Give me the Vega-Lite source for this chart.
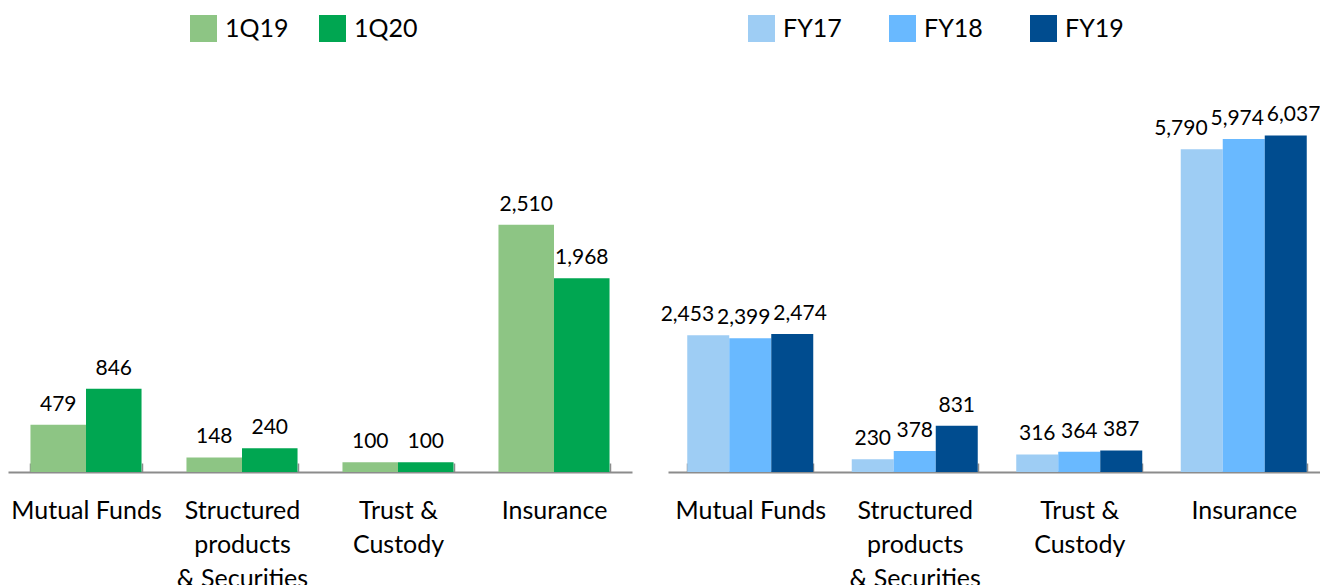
{
  "$schema": "https://vega.github.io/schema/vega-lite/v6.json",
  "padding": {"left": 8, "top": 15, "right": 0, "bottom": 0},
  "background": "white",
  "config": {
    "view": {"stroke": null},
    "font": "Lato",
    "axis": {
      "domainColor": "#8C8C8C",
      "domainWidth": 2,
      "tickColor": "#8C8C8C",
      "tickWidth": 1.5,
      "tickSize": -9,
      "labelFontSize": 25,
      "labelColor": "#000000",
      "labelPadding": 35,
      "labelLineHeight": 34,
      "labelAngle": 0,
      "labelOverlap": false,
      "labelBound": false,
      "labelLimit": 300,
      "grid": false,
      "title": null
    },
    "legend": {
      "orient": "none",
      "direction": "horizontal",
      "symbolType": "square",
      "symbolSize": 729,
      "symbolStrokeWidth": 0,
      "symbolOpacity": 1,
      "labelFontSize": 25,
      "labelColor": "#000000",
      "labelOffset": 8,
      "padding": 0,
      "title": null
    }
  },
  "datasets": {
    "left": [
      {"cat": "Mutual Funds", "period": "1Q19", "value": 479},
      {"cat": "Mutual Funds", "period": "1Q20", "value": 846},
      {"cat": "Structured|products|& Securities", "period": "1Q19", "value": 148},
      {"cat": "Structured|products|& Securities", "period": "1Q20", "value": 240},
      {"cat": "Trust &|Custody", "period": "1Q19", "value": 100},
      {"cat": "Trust &|Custody", "period": "1Q20", "value": 100},
      {"cat": "Insurance", "period": "1Q19", "value": 2510},
      {"cat": "Insurance", "period": "1Q20", "value": 1968}
    ],
    "right": [
      {"cat": "Mutual Funds", "period": "FY17", "value": 2453},
      {"cat": "Mutual Funds", "period": "FY18", "value": 2399},
      {"cat": "Mutual Funds", "period": "FY19", "value": 2474},
      {"cat": "Structured|products|& Securities", "period": "FY17", "value": 230},
      {"cat": "Structured|products|& Securities", "period": "FY18", "value": 378},
      {"cat": "Structured|products|& Securities", "period": "FY19", "value": 831},
      {"cat": "Trust &|Custody", "period": "FY17", "value": 316},
      {"cat": "Trust &|Custody", "period": "FY18", "value": 364},
      {"cat": "Trust &|Custody", "period": "FY19", "value": 387},
      {"cat": "Insurance", "period": "FY17", "value": 5790},
      {"cat": "Insurance", "period": "FY18", "value": 5974},
      {"cat": "Insurance", "period": "FY19", "value": 6037}
    ]
  },
  "spacing": 28,
  "hconcat": [
    {
      "width": 624,
      "height": 412,
      "data": {"name": "left"},
      "encoding": {
        "x": {"field": "cat", "type": "nominal", "sort": null,
              "scale": {"paddingInner": 0.288, "paddingOuter": 0.144},
              "axis": {"labelExpr": "split(datum.label, '|')", "tickBand": "extent"}},
        "xOffset": {"field": "period", "type": "nominal", "sort": null},
        "y": {"field": "value", "type": "quantitative", "scale": {"domain": [0, 4183], "nice": false}, "axis": null}
      },
      "layer": [
        {
          "mark": {"type": "bar"},
          "encoding": {
            "color": {"field": "period", "type": "nominal", "sort": null,
                      "scale": {"domain": ["1Q19", "1Q20"], "range": ["#8DC584", "#00A651"]},
                      "legend": {"legendX": 182, "legendY": -45, "columnPadding": 30,
                                 "encode": {"symbols": {"update": {"fill": {"signal": "datum.value === '1Q19' ? '#B5D8AE' : '#00A651'"}}}}}}
          }
        },
        {
          "mark": {"type": "text", "baseline": "alphabetic", "dy": -14, "fontSize": 21, "color": "#000000"},
          "encoding": {"text": {"field": "value", "type": "quantitative", "format": ","}}
        }
      ]
    },
    {
      "width": 658,
      "height": 412,
      "data": {"name": "right"},
      "encoding": {
        "x": {"field": "cat", "type": "nominal", "sort": null,
              "scale": {"paddingInner": 0.234, "paddingOuter": 0.117},
              "axis": {"labelExpr": "split(datum.label, '|')", "tickBand": "extent"}},
        "y": {"field": "value", "type": "quantitative", "scale": {"domain": [0, 7390], "nice": false}, "axis": null}
      },
      "layer": [
        {
          "mark": {"type": "bar"},
          "encoding": {
            "xOffset": {"field": "period", "type": "nominal", "sort": null},
            "color": {"field": "period", "type": "nominal", "sort": null,
                      "scale": {"domain": ["FY17", "FY18", "FY19"], "range": ["#9ECDF4", "#69B9FF", "#004C8F"]},
                      "legend": {"legendX": 80, "legendY": -45, "columnPadding": 47}}
          }
        },
        {
          "transform": [{"filter": "datum.cat !== 'Mutual Funds' && datum.cat !== 'Insurance'"}],
          "mark": {"type": "text", "baseline": "alphabetic", "dy": -14, "fontSize": 21, "color": "#000000"},
          "encoding": {
            "xOffset": {"field": "period", "type": "nominal", "sort": null},
            "text": {"field": "value", "type": "quantitative", "format": ","}
          }
        },
        {
          "transform": [{"filter": "datum.cat === 'Mutual Funds' || datum.cat === 'Insurance'"}],
          "mark": {"type": "text", "baseline": "alphabetic", "dy": -14, "fontSize": 21, "color": "#000000"},
          "encoding": {
            "xOffset": {"field": "period", "type": "nominal", "sort": null, "scale": {"range": [-28, 141]}},
            "text": {"field": "value", "type": "quantitative", "format": ","}
          }
        }
      ],
      "resolve": {"scale": {"xOffset": "independent"}}
    }
  ],
  "resolve": {
    "scale": {"color": "independent", "y": "independent", "x": "independent", "xOffset": "independent"},
    "legend": {"color": "independent"}
  }
}
